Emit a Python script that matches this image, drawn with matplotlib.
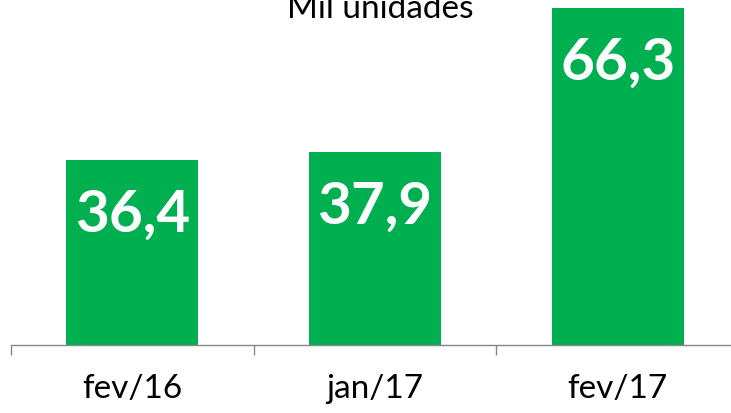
import matplotlib
matplotlib.use("Agg")
import matplotlib.pyplot as plt
from matplotlib.ticker import FixedLocator

categories = ["fev/16", "jan/17", "fev/17"]
values = [36.4, 37.9, 66.3]
value_labels = ["36,4", "37,9", "66,3"]
title = "Mil unidades"

plt.rcParams['font.family'] = ['Lato', 'DejaVu Sans']

fig = plt.figure(figsize=(7.31, 4.14), dpi=100)
ax = fig.add_axes([11/731, 68/414, 728/731, 346/414])

x = list(range(len(categories)))
ax.bar(x, values, width=0.545, color="#00B050")
ax.set_xlim(-0.5, 2.5)
ax.set_ylim(0, 68.1)

for xi, v, lab in zip(x, values, value_labels):
    ax.annotate(lab, (xi, v), xytext=(0, -39), textcoords="offset points",
                ha="center", va="center", color="white", fontsize=42,
                fontweight="bold")

for s in ["top", "right", "left"]:
    ax.spines[s].set_visible(False)
ax.spines["bottom"].set_color("#868686")
ax.spines["bottom"].set_linewidth(1.0)
ax.set_yticks([])

ax.xaxis.set_major_locator(FixedLocator([-0.5, 0.5, 1.5, 2.5]))
ax.set_xticklabels([])
ax.tick_params(axis="x", which="major", length=7.5, color="#868686", width=1.0)
ax.set_xticks(x, minor=True)
ax.set_xticklabels(categories, minor=True)
ax.tick_params(axis="x", which="minor", length=0, pad=20, labelsize=24)

fig.text(380/731, 1 - 18/414, title, ha="center", va="baseline", fontsize=24)

fig.savefig("out.png", dpi=100)
